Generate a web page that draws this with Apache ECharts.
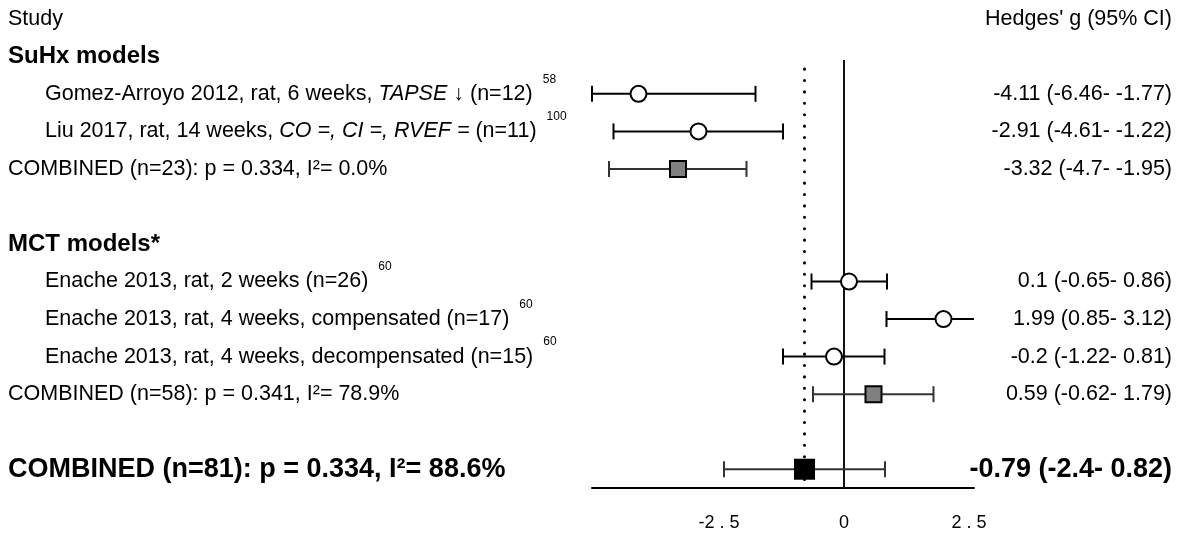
<!DOCTYPE html>
<html>
<head>
<meta charset="utf-8">
<script src="https://cdn.jsdelivr.net/npm/echarts@6/dist/echarts.min.js"></script>
<style>html,body{margin:0;padding:0;background:#fff;}#c{width:1184px;height:545px;}</style>
</head>
<body>
<div id="c"></div>
<script>
// ---- data ----
const leftLabels = [
  '{study|Study}',
  '{h|SuHx models}',
  '{ind|Gomez-Arroyo 2012, rat, 6 weeks, }{i|TAPSE}{n| ↓ (n=12)}{sup|58}',
  '{ind|Liu 2017, rat, 14 weeks, }{i|CO =, CI =, RVEF =}{n| (n=11)}{sup|100}',
  '{n|COMBINED (n=23): p = 0.334, I²= 0.0%}',
  '',
  '{h|MCT models*}',
  '{ind|Enache 2013, rat, 2 weeks (n=26)}{sup|60}',
  '{ind|Enache 2013, rat, 4 weeks, compensated (n=17)}{sup|60}',
  '{ind|Enache 2013, rat, 4 weeks, decompensated (n=15)}{sup|60}',
  '{n|COMBINED (n=58): p = 0.341, I²= 78.9%}',
  '',
  '{b|COMBINED (n=81): p = 0.334, I²= 88.6%}'
];
const headerRight = "Hedges' g (95% CI)";
// studies
const studyRows = [0, 1, 5, 6, 7];
const studyG  = [-4.11, -2.91, 0.1, 1.99, -0.2];
const studyLo = [-6.46, -4.61, -0.65, 0.85, -1.22];
const studyHi = [-1.77, -1.22, 0.86, 3.12, 0.81];
// subgroup pooled
const subRows = [2, 8];
const subG  = [-3.32, 0.59];
const subLo = [-4.7, -0.62];
const subHi = [-1.95, 1.79];
// overall pooled
const allRow = 10;
const allG = -0.79, allLo = -2.4, allHi = 0.82;
// axis
const xMin = -5.04, xMax = 2.6;
const tickValues = [-2.5, 0, 2.5];
const tickLabels = ['-2 . 5', '0', '2 . 5'];

// ---- build ----
const nRows = leftLabels.length;
const rightLabels = new Array(nRows).fill('');
rightLabels[0] = '{n|' + headerRight + '}';
const fmt = (g, lo, hi) => g + ' (' + lo + '- ' + hi + ')';
studyRows.forEach((r, i) => rightLabels[r + 2] = '{n|' + fmt(studyG[i], studyLo[i], studyHi[i]) + '}');
subRows.forEach((r, i) => rightLabels[r + 2] = '{n|' + fmt(subG[i], subLo[i], subHi[i]) + '}');
rightLabels[allRow + 2] = '{b|' + fmt(allG, allLo, allHi) + '}';
const cats = leftLabels.map((_, i) => 'r' + i);

const FF = '"Liberation Sans", Arial, sans-serif';
const FS = 21.5;
const rich = {
  study: {fontSize: FS, fontFamily: FF, color: '#000'},
  n: {fontSize: FS, fontFamily: FF, color: '#000'},
  ind: {fontSize: FS, fontFamily: FF, color: '#000', padding: [0, 0, 0, 37]},
  i: {fontSize: FS, fontFamily: FF, color: '#000', fontStyle: 'italic'},
  h: {fontSize: 24, fontFamily: FF, color: '#000', fontWeight: 'bold'},
  b: {fontSize: 27, fontFamily: FF, color: '#000', fontWeight: 'bold'},
  sup: {fontSize: 12, fontFamily: FF, color: '#000', padding: [0, 0, 29, 10]}
};

function barRender(color, width) {
  return function (params, api) {
    const lo = api.value(0), hi = api.value(1), y = api.value(2);
    const clo = Math.max(lo, xMin), chi = Math.min(hi, xMax);
    const p1 = api.coord([clo, y]), p2 = api.coord([chi, y]);
    const style = {stroke: color, lineWidth: width};
    const ch = 8;
    const children = [
      {type: 'line', shape: {x1: p1[0], y1: p1[1], x2: p2[0], y2: p2[1]}, style: style},
      {type: 'line', shape: {x1: p1[0], y1: p1[1] - ch, x2: p1[0], y2: p1[1] + ch}, style: style}
    ];
    if (hi <= xMax) children.push({type: 'line', shape: {x1: p2[0], y1: p2[1] - ch, x2: p2[0], y2: p2[1] + ch}, style: style});
    return {type: 'group', children: children};
  };
}

const chart = echarts.init(document.getElementById('c'), null, {renderer: 'canvas'});
chart.setOption({
  animation: false,
  backgroundColor: '#fff',
  grid: {left: 592, right: 210, top: 0, height: 488, containLabel: false},
  xAxis: {
    type: 'value', min: xMin, max: xMax,
    axisLine: {show: true, onZero: false, lineStyle: {color: '#000', width: 2}},
    axisTick: {show: false},
    splitLine: {show: false},
    axisLabel: {
      customValues: tickValues, margin: 26, fontSize: 18, fontFamily: FF, color: '#000',
      formatter: v => tickLabels[tickValues.indexOf(v)] ?? ''
    }
  },
  yAxis: [
    {type: 'category', data: cats, inverse: true, position: 'left',
      axisLine: {show: false}, axisTick: {show: false}, splitLine: {show: false},
      axisLabel: {interval: 0, align: 'left', margin: 584, formatter: (v, i) => leftLabels[i], rich: rich}},
    {type: 'category', data: cats, inverse: true, position: 'right',
      axisLine: {show: false}, axisTick: {show: false}, splitLine: {show: false},
      axisLabel: {interval: 0, align: 'right', margin: 198, formatter: (v, i) => rightLabels[i], rich: rich}},
    {type: 'value', min: -2.5, max: 10.5, inverse: true, show: false}
  ],
  series: [
    {type: 'line', yAxisIndex: 2, z: 1, symbol: 'none', silent: true,
      lineStyle: {color: '#111', width: 2}, data: [[0, -0.9], [0, 10.5]]},
    {type: 'line', yAxisIndex: 2, z: 1, symbol: 'none', silent: true,
      lineStyle: {color: '#000', width: 3, type: [0.1, 11.3], cap: 'round'}, data: [[allG, -0.66], [allG, 10.5]]},
    {type: 'custom', yAxisIndex: 2, z: 2, renderItem: barRender('#000', 2),
      data: studyRows.map((r, i) => [studyLo[i], studyHi[i], r])},
    {type: 'custom', yAxisIndex: 2, z: 2, renderItem: barRender('#333', 2),
      data: subRows.map((r, i) => [subLo[i], subHi[i], r]).concat([[allLo, allHi, allRow]])},
    {type: 'scatter', yAxisIndex: 2, z: 3, symbol: 'circle', symbolSize: 16,
      itemStyle: {color: '#fff', borderColor: '#000', borderWidth: 2, opacity: 1},
      data: studyRows.map((r, i) => [studyG[i], r])},
    {type: 'scatter', yAxisIndex: 2, z: 3, symbol: 'rect', symbolSize: 16,
      itemStyle: {color: '#808080', borderColor: '#000', borderWidth: 2, opacity: 1},
      data: subRows.map((r, i) => [subG[i], r])},
    {type: 'scatter', yAxisIndex: 2, z: 3, symbol: 'rect', symbolSize: 21,
      itemStyle: {color: '#000', borderColor: '#000', borderWidth: 0, opacity: 1},
      data: [[allG, allRow]]}
  ]
});
</script>
</body>
</html>
